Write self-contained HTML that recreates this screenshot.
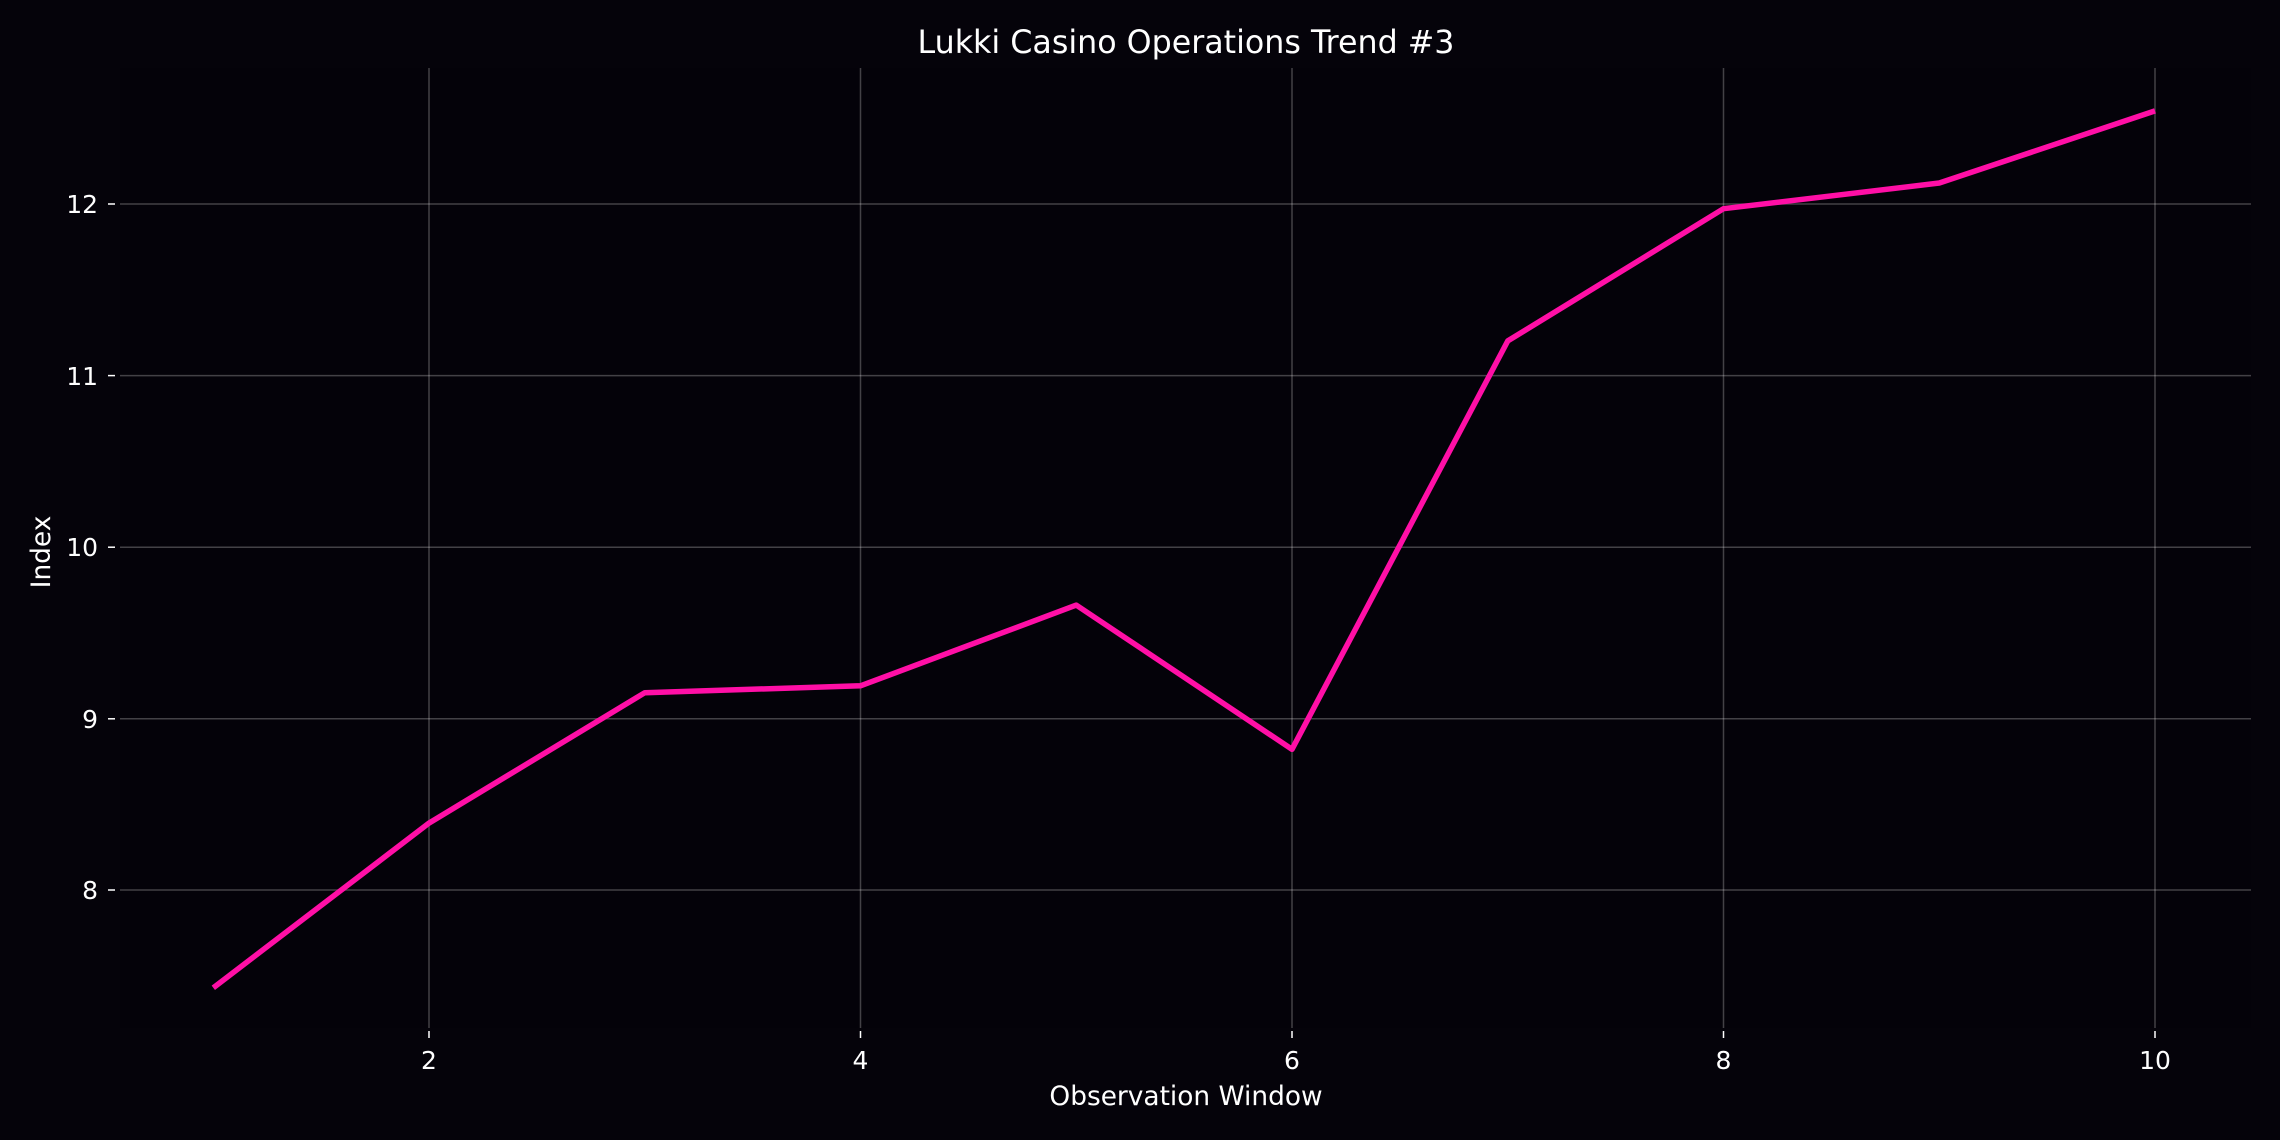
<!DOCTYPE html>
<html><head><style>
html,body{margin:0;padding:0;background:#05030a;}
svg{display:block;font-family:"DejaVu Sans","Liberation Sans",sans-serif;}
</style></head><body>
<svg width="2280" height="1140" viewBox="0 0 2280 1140" xmlns="http://www.w3.org/2000/svg">
<rect width="2280" height="1140" fill="#05030a"/>
<rect x="120" y="68" width="2131" height="960" fill="#040209"/>
<g stroke="#ffffff" stroke-opacity="0.25" stroke-width="1.5">
<line x1="429" y1="68" x2="429" y2="1028"/>
<line x1="860.5" y1="68" x2="860.5" y2="1028"/>
<line x1="1292" y1="68" x2="1292" y2="1028"/>
<line x1="1723.5" y1="68" x2="1723.5" y2="1028"/>
<line x1="2155" y1="68" x2="2155" y2="1028"/>
<line x1="120" y1="204" x2="2251" y2="204"/>
<line x1="120" y1="375.6" x2="2251" y2="375.6"/>
<line x1="120" y1="547.2" x2="2251" y2="547.2"/>
<line x1="120" y1="718.8" x2="2251" y2="718.8"/>
<line x1="120" y1="890" x2="2251" y2="890"/>
</g>
<g stroke="#ffffff" stroke-width="1.5">
<line x1="108" y1="204" x2="115" y2="204"/>
<line x1="108" y1="375.6" x2="115" y2="375.6"/>
<line x1="108" y1="547.2" x2="115" y2="547.2"/>
<line x1="108" y1="718.8" x2="115" y2="718.8"/>
<line x1="108" y1="890" x2="115" y2="890"/>
<line x1="429" y1="1031" x2="429" y2="1038"/>
<line x1="860.5" y1="1031" x2="860.5" y2="1038"/>
<line x1="1292" y1="1031" x2="1292" y2="1038"/>
<line x1="1723.5" y1="1031" x2="1723.5" y2="1038"/>
<line x1="2155" y1="1031" x2="2155" y2="1038"/>
</g>
<g fill="#ffffff" font-size="25" text-anchor="end">
<text x="98" y="213">12</text>
<text x="98" y="385">11</text>
<text x="98" y="556">10</text>
<text x="98" y="728">9</text>
<text x="98" y="899">8</text>
</g>
<g fill="#ffffff" font-size="25" text-anchor="middle">
<text x="429" y="1069">2</text>
<text x="860.5" y="1069">4</text>
<text x="1292" y="1069">6</text>
<text x="1723.5" y="1069">8</text>
<text x="2155" y="1069">10</text>
<text x="1186" y="1105" font-size="26.4">Observation Window</text>
<text x="1186" y="53" font-size="31.7">Lukki Casino Operations Trend #3</text>
<text transform="translate(50,552) rotate(-90)" font-size="26.4">Index</text>
</g>
<polyline fill="none" stroke="#ff0fa6" stroke-width="5.5" stroke-linejoin="round"
points="213.3,987.8 429,823.1 644.8,692.7 860.5,685.8 1076.3,605.1 1292,749.3 1507.8,340.9 1723.5,208.7 1939.3,183 2155,110.9"/>
</svg>
</body></html>
